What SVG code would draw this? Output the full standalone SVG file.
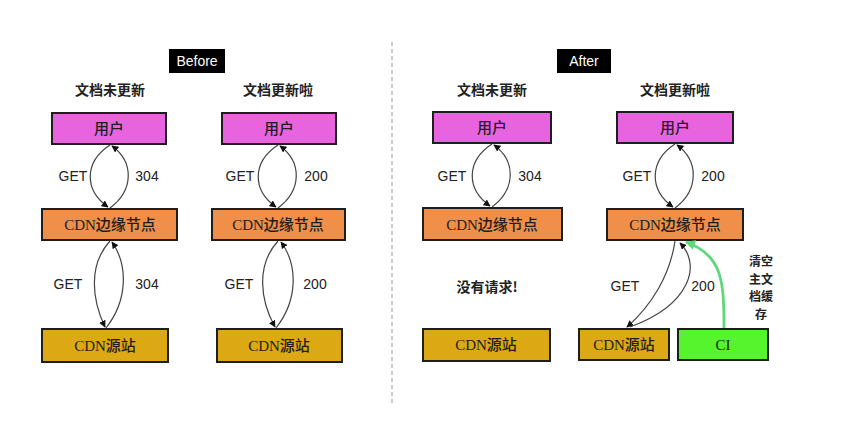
<svg xmlns="http://www.w3.org/2000/svg" width="853" height="424" viewBox="0 0 853 424">
<defs>
<style>
.box{stroke:#1e1e1e;stroke-width:2}
.user{fill:#e863de}
.edge{fill:#f08f4a}
.src{fill:#dca914}
.ci{fill:#55f42c}
.bl{font-family:"Liberation Serif","Noto Sans CJK SC",serif;font-size:15px;fill:#1e1e1e;text-anchor:middle;font-weight:500}
.lbl{font-family:"Liberation Sans","Noto Sans",sans-serif;font-size:14px;fill:#222;text-anchor:middle}
.title{font-family:"Noto Sans CJK SC",sans-serif;font-size:14px;font-weight:bold;fill:#222;text-anchor:middle}
.note{font-family:"Noto Sans CJK SC",sans-serif;font-size:12px;font-weight:bold;fill:#222;text-anchor:middle}
.tag{font-family:"Liberation Sans","Noto Sans",sans-serif;font-size:14px;fill:#fff;text-anchor:middle}
.arr{fill:none;stroke:#444;stroke-width:1.2;marker-end:url(#ah)}
.garr{fill:none;stroke:#5ed87a;stroke-width:2.8;marker-end:url(#gh)}
</style>
<marker id="ah" viewBox="0 0 10 10" refX="9" refY="5" markerWidth="7" markerHeight="7" orient="auto" markerUnits="userSpaceOnUse"><path d="M0,0 L10,5 L0,10 z" fill="#111"/></marker>
<marker id="gh" viewBox="0 0 10 10" refX="9" refY="5" markerWidth="10" markerHeight="10" orient="auto" markerUnits="userSpaceOnUse"><path d="M0,0 L10,5 L0,10 z" fill="#5ed87a"/></marker>
</defs>
<rect width="853" height="424" fill="#fff"/>
<line x1="392" y1="42" x2="392" y2="405" stroke="#999" stroke-width="1" stroke-dasharray="4,3"/>
<g id="before-tag"><rect x="169" y="49" width="56" height="24" fill="#000"/><text class="tag" x="197" y="66">Before</text></g>
<g id="after-tag"><rect x="557" y="49" width="54" height="24" fill="#000"/><text class="tag" x="584" y="66">After</text></g>
<g id="titles">
<text class="title" x="110" y="95">文档未更新</text>
<text class="title" x="278" y="95">文档更新啦</text>
<text class="title" x="492" y="95">文档未更新</text>
<text class="title" x="675" y="95">文档更新啦</text>
</g>
<g id="c1-user"><rect class="box user" x="52" y="113" width="114" height="31"/><text class="bl" x="109" y="134">用户</text></g>
<g id="c1-edge"><rect class="box edge" x="42" y="209" width="135" height="31"/><text class="bl" x="110" y="230">CDN边缘节点</text></g>
<g id="c1-src"><rect class="box src" x="42" y="329" width="126" height="33"/><text class="bl" x="105" y="351">CDN源站</text></g>
<g id="c2-user"><rect class="box user" x="222" y="113" width="114" height="31"/><text class="bl" x="279" y="134">用户</text></g>
<g id="c2-edge"><rect class="box edge" x="212" y="209" width="133" height="31"/><text class="bl" x="278" y="230">CDN边缘节点</text></g>
<g id="c2-src"><rect class="box src" x="217" y="329" width="125" height="33"/><text class="bl" x="279" y="351">CDN源站</text></g>
<g id="c3-user"><rect class="box user" x="433" y="112" width="118" height="31"/><text class="bl" x="492" y="133">用户</text></g>
<g id="c3-edge"><rect class="box edge" x="423" y="208" width="139" height="32"/><text class="bl" x="492" y="230">CDN边缘节点</text></g>
<g id="c3-src"><rect class="box src" x="423" y="329" width="127" height="32"/><text class="bl" x="486" y="350">CDN源站</text></g>
<g id="c4-user"><rect class="box user" x="617" y="112" width="116" height="31"/><text class="bl" x="675" y="133">用户</text></g>
<g id="c4-edge"><rect class="box edge" x="607" y="209" width="136" height="31"/><text class="bl" x="675" y="230">CDN边缘节点</text></g>
<g id="c4-src"><rect class="box src" x="579" y="329" width="90" height="31"/><text class="bl" x="624" y="350">CDN源站</text></g>
<g id="c4-ci"><rect class="box ci" x="678" y="329" width="90" height="31"/><text class="bl" x="723" y="350">CI</text></g>
<g id="no-req"><text class="title" x="487" y="292">没有请求!</text></g>
<g id="ci-note">
<text class="note" x="761" y="266">清空</text>
<text class="note" x="761" y="283.5">主文</text>
<text class="note" x="761" y="301">档缓</text>
<text class="note" x="761" y="318.5">存</text>
</g>
<g id="connectors">
<path class="arr" d="M110 145 C84 162 84 190 108 207"/>
<path class="arr" d="M110 208 C134 190 134 162 112 146"/>
<path class="arr" d="M110 241 C88 265 92 300 105 327"/>
<path class="arr" d="M106 328 C128 300 128 265 112 242"/>
<path class="arr" d="M278 145 C252 162 252 190 276 207"/>
<path class="arr" d="M278 208 C302 190 302 162 280 146"/>
<path class="arr" d="M278 241 C256 265 260 300 275 327"/>
<path class="arr" d="M276 328 C298 300 298 265 281 242"/>
<path class="arr" d="M492 144 C466 161 466 189 490 206"/>
<path class="arr" d="M492 207 C516 189 516 161 494 145"/>
<path class="arr" d="M675 144 C649 161 649 190 673 207"/>
<path class="arr" d="M675 208 C699 190 699 161 677 145"/>
<path class="arr" d="M675 241 C670 275 652 305 627 327"/>
<path class="arr" d="M630 327 C690 305 702 265 680 243"/>
<path class="garr" d="M724 328 C724 280 722 255 686 242"/>
</g>
<g id="labels">
<text class="lbl" x="73" y="181">GET</text>
<text class="lbl" x="147" y="181">304</text>
<text class="lbl" x="68" y="289">GET</text>
<text class="lbl" x="147" y="289">304</text>
<text class="lbl" x="240" y="181">GET</text>
<text class="lbl" x="316" y="181">200</text>
<text class="lbl" x="239" y="289">GET</text>
<text class="lbl" x="315" y="289">200</text>
<text class="lbl" x="452" y="181">GET</text>
<text class="lbl" x="530" y="181">304</text>
<text class="lbl" x="637" y="181">GET</text>
<text class="lbl" x="713" y="181">200</text>
<text class="lbl" x="625" y="291">GET</text>
<text class="lbl" x="703" y="291">200</text>
</g>
</svg>
